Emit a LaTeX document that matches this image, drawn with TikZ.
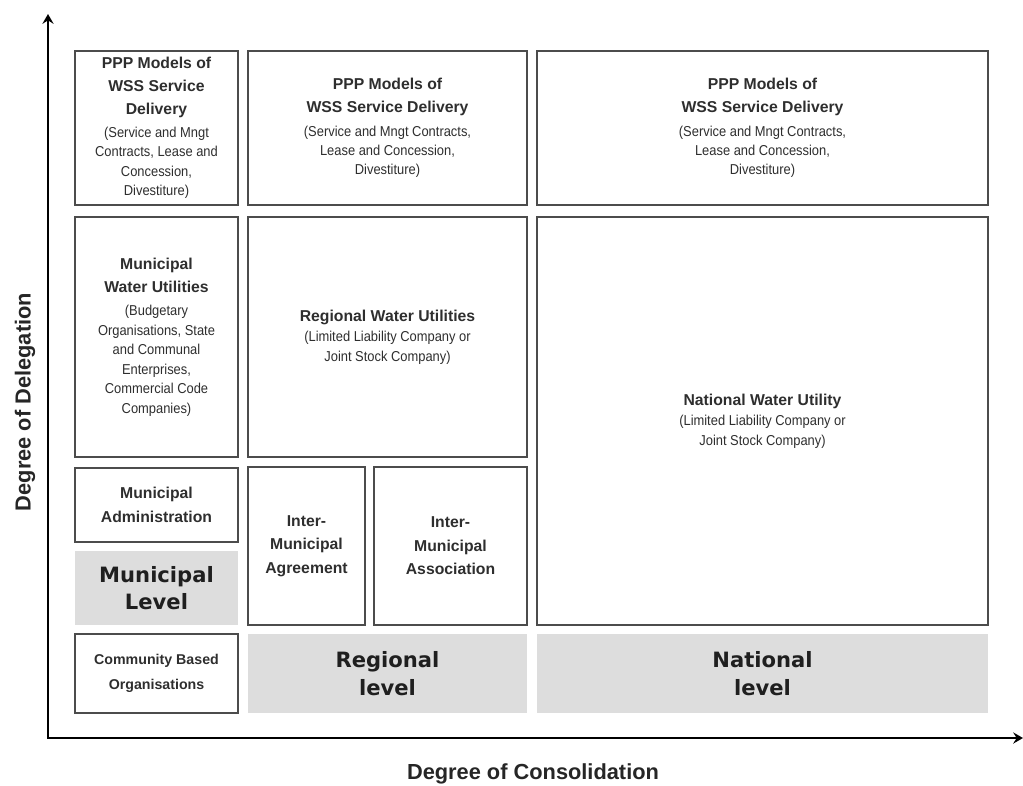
\documentclass[tikz,border=0pt]{standalone}
\usepackage{fontspec}
\setmainfont{Liberation Sans}
\newfontfamily\notefont{Liberation Sans}[FakeStretch=0.9]
\newfontfamily\levelfont{DejaVu Sans}
\usetikzlibrary{arrows.meta}
\definecolor{boxgray}{gray}{0.3}
\definecolor{levelgray}{gray}{0.865}
\definecolor{textgray}{gray}{0.18}
\newcommand{\boxtitle}[1]{{\rmfamily\bfseries\fontsize{11.2}{15}\selectfont #1}}
\begin{document}
\begin{tikzpicture}[x=0.025cm, y=-0.025cm,
  cell/.style={draw=boxgray, line width=0.9pt, align=center, inner sep=1pt, text=textgray,
    font=\notefont\fontsize{10.2}{13.8}\selectfont},
  levelcell/.style={fill=levelgray, align=center, inner sep=1pt, text=black!88,
    font=\levelfont\bfseries\fontsize{15}{19.5}\selectfont},
  axislabel/.style={font=\bfseries\fontsize{15.5}{18}\selectfont, text=black!85}]
\useasboundingbox (0,0) rectangle (1023,785);
\node[cell, minimum width=4.075cm, minimum height=3.85cm] (ppp1) at (156.5,128){\boxtitle{PPP Models of}\\[2.5pt] \boxtitle{WSS Service}\\[2.5pt] \boxtitle{Delivery}\\[2.5pt] (Service and Mngt\\ Contracts, Lease and\\ Concession,\\ Divestiture)};
\node[cell, minimum width=6.975cm, minimum height=3.85cm] (ppp2) at (387.5,128){\boxtitle{PPP Models of}\\[2.5pt] \boxtitle{WSS Service Delivery}\\[3pt] (Service and Mngt Contracts,\\ Lease and Concession,\\ Divestiture)};
\node[cell, minimum width=11.275cm, minimum height=3.85cm] (ppp3) at (762.5,128){\boxtitle{PPP Models of}\\[2.5pt] \boxtitle{WSS Service Delivery}\\[3pt] (Service and Mngt Contracts,\\ Lease and Concession,\\ Divestiture)};
\node[cell, minimum width=4.075cm, minimum height=6cm] (muwu) at (156.5,337){\boxtitle{Municipal}\\[2.5pt] \boxtitle{Water Utilities}\\[3pt] (Budgetary\\ Organisations, State\\ and Communal\\ Enterprises,\\ Commercial Code\\ Companies)};
\node[cell, minimum width=6.975cm, minimum height=6cm] (rwu) at (387.5,337){\boxtitle{Regional Water Utilities}\\[1pt] (Limited Liability Company or\\ Joint Stock Company)};
\node[cell, minimum width=11.275cm, minimum height=10.2cm] (nwu) at (762.5,421){\boxtitle{National Water Utility}\\[1pt] (Limited Liability Company or\\ Joint Stock Company)};
\node[cell, minimum width=4.075cm, minimum height=1.85cm] (muad) at (156.5,505){\boxtitle{Municipal}\\[3pt] \boxtitle{Administration}};
\node[levelcell, minimum width=4.075cm, minimum height=1.85cm] (mulev) at (156.5,588){Municipal\\ Level};
\node[cell, minimum width=2.925cm, minimum height=3.95cm] (imagr) at (306.5,546){\boxtitle{Inter-}\\[3pt] \boxtitle{Municipal}\\[3pt] \boxtitle{Agreement}};
\node[cell, minimum width=3.825cm, minimum height=3.95cm] (imass) at (450.5,546){\boxtitle{Inter-}\\[3pt] \boxtitle{Municipal}\\[3pt] \boxtitle{Association}};
\node[cell, minimum width=4.075cm, minimum height=1.975cm] (cbo) at (156.5,673.5){{\rmfamily\bfseries\fontsize{10.1}{15}\selectfont Community Based}\\[4pt] {\rmfamily\bfseries\fontsize{10.1}{15}\selectfont Organisations}};
\node[levelcell, minimum width=6.975cm, minimum height=1.975cm] (reglev) at (387.5,673.5){Regional\\ level};
\node[levelcell, minimum width=11.275cm, minimum height=1.975cm] (natlev) at (762.5,673.5){National\\ level};
\coordinate (ytip) at (48,14);
\coordinate (xtip) at (1023,738);
\draw[line width=1.3pt, {Stealth[length=7pt,width=8pt,inset=2.5pt]}-{Stealth[length=7pt,width=8pt,inset=2.5pt]}] (ytip) |- (xtip);
\node[axislabel, rotate=90] (ylabel) at (25,402){Degree of Delegation};
\node[axislabel] (xlabel) at (533,774){Degree of Consolidation};
\end{tikzpicture}
\end{document}
